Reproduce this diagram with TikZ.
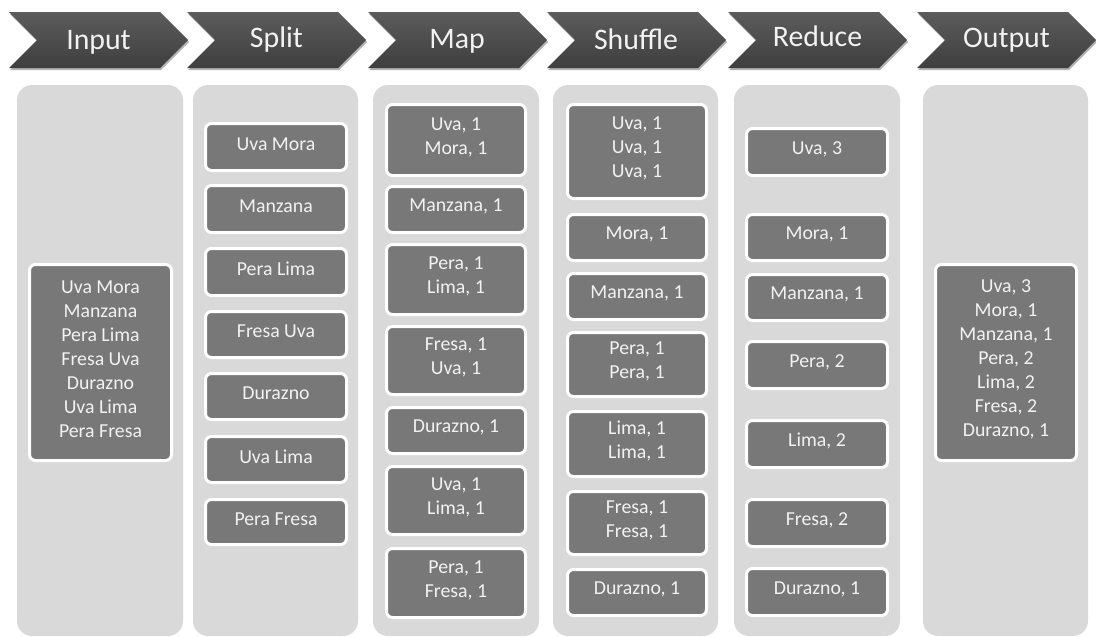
\documentclass[tikz,border=0pt]{standalone}
\usepackage{fontspec}
\setmainfont{Carlito}
\usetikzlibrary{shadows}

\definecolor{lanefill}{HTML}{D9D9D9}
\definecolor{cellfill}{HTML}{787878}
\definecolor{chevtop}{HTML}{5C5C5C}
\definecolor{chevbot}{HTML}{3E3E3E}
\definecolor{txt}{HTML}{F2F2F2}

% lane: name, x1, y1, x2, y2
\newcommand\mrlane[5]{%
  \node[lane, minimum width={#4-#2}, minimum height={#5-#3}] (#1)
    at ({(#2+#4)/2},{(#3+#5)/2}) {};}
% cell: name, x1, y1, x2, y2 (outer edges), text
\newcommand\mrcell[6]{%
  \node[cellbox, minimum width={#4-#2-3}, minimum height={#5-#3-3}] (#1)
    at ({(#2+#4)/2},{(#3+#5)/2}) {};
  \node[celltext] (#1-t) at ([yshift=3pt]#1.center) {#6};}
% chevron header: left x
\newcommand\mrchev[1]{%
  \path[chevron] (#1,12) -- ({#1+151},12) -- ({#1+179},40) -- ({#1+151},68)
    -- (#1,68) -- ({#1+28},40) -- cycle;}

\begin{document}
\begin{tikzpicture}[x=1pt,y=-1pt,
  lane/.style={fill=lanefill, draw=none, rounded corners=15pt, inner sep=0pt, outer sep=0pt},
  cellbox/.style={fill=cellfill, draw=white, line width=3pt, rounded corners=6pt, inner sep=0pt, outer sep=0pt},
  celltext/.style={text=txt, font=\fontsize{19.8}{24}\selectfont, align=center, inner sep=0pt},
  headtext/.style={text=txt, font=\fontsize{29.8}{34}\selectfont, anchor=base, inner sep=0pt},
  chevron/.style={top color=chevtop, bottom color=chevbot,
    drop shadow={shadow xshift=1pt, shadow yshift=-2pt, opacity=0.3, fill=black}}
]
\useasboundingbox[fill=white] (0,0) rectangle (1096,637);

% header chevrons
\mrchev{9}
\mrchev{187}
\mrchev{368}
\mrchev{547}
\mrchev{728}
\mrchev{917}
\node[headtext] (hInput)   at (98.5,49)  {Input};
\node[headtext] (hSplit)   at (276.5,47) {Split};
\node[headtext] (hMap)     at (457,48)   {Map};
\node[headtext] (hShuffle) at (636,49)   {Shuffle};
\node[headtext] (hReduce)  at (817.5,46) {Reduce};
\node[headtext] (hOutput)  at (1006.5,47){Output};

% lanes
\mrlane{lInput}{17}{85}{183}{636}
\mrlane{lSplit}{193}{85}{358}{636}
\mrlane{lMap}{373}{85}{539}{636}
\mrlane{lShuffle}{553}{85}{718}{636}
\mrlane{lReduce}{734}{85}{900}{636}
\mrlane{lOutput}{923}{85}{1088}{636}

% input
\mrcell{in}{28}{263}{173}{462}{Uva Mora\\Manzana\\Pera Lima\\Fresa Uva\\Durazno\\Uva Lima\\Pera Fresa}

% split
\mrcell{s1}{204}{122}{348}{172}{Uva Mora}
\mrcell{s2}{204}{184}{348}{234}{Manzana}
\mrcell{s3}{204}{247}{348}{297}{Pera Lima}
\mrcell{s4}{204}{310}{348}{359}{Fresa Uva}
\mrcell{s5}{204}{372}{348}{421}{Durazno}
\mrcell{s6}{204}{435}{348}{484}{Uva Lima}
\mrcell{s7}{204}{498}{348}{546}{Pera Fresa}

% map
\mrcell{m1}{385}{103}{527}{177}{Uva, 1\\Mora, 1}
\mrcell{m2}{385}{185}{527}{234}{Manzana, 1}
\mrcell{m3}{385}{243}{527}{316}{Pera, 1\\Lima, 1}
\mrcell{m4}{385}{325}{527}{396}{Fresa, 1\\Uva, 1}
\mrcell{m5}{385}{406}{527}{455}{Durazno, 1}
\mrcell{m6}{385}{465}{527}{536}{Uva, 1\\Lima, 1}
\mrcell{m7}{385}{547}{527}{619}{Pera, 1\\Fresa, 1}

% shuffle
\mrcell{h1}{566}{103}{708}{200}{Uva, 1\\Uva, 1\\Uva, 1}
\mrcell{h2}{566}{213}{708}{262}{Mora, 1}
\mrcell{h3}{566}{272}{708}{321}{Manzana, 1}
\mrcell{h4}{566}{331}{708}{398}{Pera, 1\\Pera, 1}
\mrcell{h5}{566}{410}{708}{478}{Lima, 1\\Lima, 1}
\mrcell{h6}{566}{490}{708}{556}{Fresa, 1\\Fresa, 1}
\mrcell{h7}{566}{568}{708}{617}{Durazno, 1}

% reduce
\mrcell{r1}{745}{127}{889}{177}{Uva, 3}
\mrcell{r2}{745}{213}{889}{262}{Mora, 1}
\mrcell{r3}{745}{273}{889}{322}{Manzana, 1}
\mrcell{r4}{745}{340}{889}{390}{Pera, 2}
\mrcell{r5}{745}{419}{889}{469}{Lima, 2}
\mrcell{r6}{745}{498}{889}{548}{Fresa, 2}
\mrcell{r7}{745}{567}{889}{617}{Durazno, 1}

% output
\mrcell{out}{934}{263}{1078}{462}{Uva, 3\\Mora, 1\\Manzana, 1\\Pera, 2\\Lima, 2\\Fresa, 2\\Durazno, 1}
\end{tikzpicture}
\end{document}
